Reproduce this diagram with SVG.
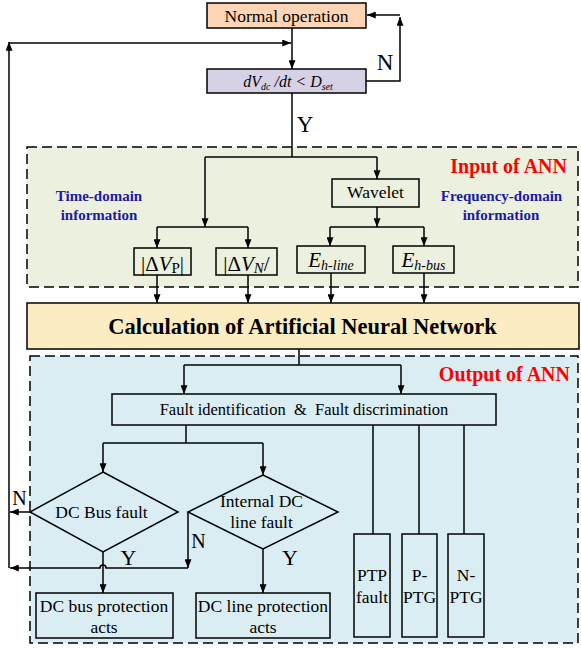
<svg xmlns="http://www.w3.org/2000/svg" width="581" height="648" viewBox="0 0 581 648">
  <style>
    text { font-family: "Liberation Serif", "Times New Roman", serif; fill: #000; }
    .box { stroke: #000; stroke-width: 1.5; fill: none; }
    .peach { fill: #fbd5b5; }
    .lilac { fill: #d7d1e5; }
    .cream { fill: #fcecc1; }
    .zone { stroke: #000; stroke-width: 1.5; stroke-dasharray: 10 5; }
    .wire { stroke: #000; stroke-width: 1.5; fill: none; }
    .arr { marker-end: url(#ah); }
    .t17 { font-size: 17.5px; text-anchor: middle; }
    .yn { font-size: 22px; text-anchor: middle; }
    .head { font-size: 20px; font-weight: bold; fill: #ff0000; text-anchor: end; }
    .info { font-size: 15px; font-weight: bold; fill: #1a1aa6; text-anchor: middle; }
    .sym { font-size: 21px; text-anchor: middle; }
  </style>
  <defs>
    <marker id="ah" viewBox="0 0 10 8" refX="10" refY="4" markerWidth="9" markerHeight="7" orient="auto" markerUnits="userSpaceOnUse">
      <path d="M0,0 L10,4 L0,8 z" fill="#000"/>
    </marker>
  </defs>

  <!-- background zones -->
  <rect id="zone-input" class="zone" x="27" y="147" width="551" height="140" fill="#ebf1de"/>
  <rect id="zone-output" class="zone" x="30" y="356" width="548" height="287" fill="#daedf3"/>

  <!-- connectors -->
  <g id="connectors">
    <path class="wire arr" d="M292,28 V69"/>
    <path class="wire arr" d="M366,81 H400 V17"/>
    <path class="wire arr" d="M400,15 H367"/>
    <path class="wire" d="M292,93 V157"/>
    <path class="wire" d="M205,157 H377"/>
    <path class="wire arr" d="M377,157 V179"/>
    <path class="wire arr" d="M205,157 V227"/>
    <path class="wire" d="M157,227 H248"/>
    <path class="wire arr" d="M157,227 V248"/>
    <path class="wire arr" d="M248,227 V248"/>
    <path class="wire arr" d="M377,207 V227"/>
    <path class="wire" d="M330,227 H424"/>
    <path class="wire arr" d="M330,227 V246"/>
    <path class="wire arr" d="M424,227 V246"/>
    <path class="wire arr" d="M157,275 V303"/>
    <path class="wire arr" d="M248,275 V303"/>
    <path class="wire arr" d="M331,273 V303"/>
    <path class="wire arr" d="M424,273 V303"/>
    <path class="wire" d="M299,349 V365"/>
    <path class="wire" d="M184,365 H401"/>
    <path class="wire arr" d="M184,365 V394"/>
    <path class="wire arr" d="M401,365 V394"/>
    <path class="wire" d="M186,425 V443"/>
    <path class="wire" d="M103,443 H263"/>
    <path class="wire arr" d="M103,443 V472"/>
    <path class="wire arr" d="M263,443 V475"/>
    <path class="wire" d="M373,425 V534"/>
    <path class="wire" d="M419,425 V534"/>
    <path class="wire" d="M464,425 V534"/>
    <path class="wire arr" d="M103,552 V593"/>
    <path class="wire arr" d="M263,549 V593"/>
    <path class="wire arr" d="M30,512 H10"/>
    <path class="wire arr" d="M188,512 V568"/>
    <path class="wire arr" d="M188,568 H106 A3,3 0 0 0 100,568 H10"/>
    <path class="wire arr" d="M9,568 V42"/>
    <path class="wire arr" d="M9,43 H291"/>
  </g>

  <!-- flow labels -->
  <text class="yn" x="385" y="70" style="font-size:23px">N</text>
  <text class="yn" x="305" y="132" style="font-size:23px">Y</text>
  <text class="yn" x="19.5" y="505" style="font-size:20px">N</text>
  <text class="yn" x="198.5" y="548" style="font-size:20px">N</text>
  <text class="yn" x="128.5" y="565">Y</text>
  <text class="yn" x="290" y="565">Y</text>

  <g id="normal">
    <rect class="box peach" x="207" y="3" width="159" height="25"/>
    <text class="t17" x="286.5" y="22">Normal operation</text>
  </g>

  <g id="criterion">
    <rect class="box lilac" x="207" y="69" width="159" height="24"/>
    <text x="288" y="87" style="font-size:16px;font-style:italic;text-anchor:middle">dV<tspan dy="3" font-size="10">dc</tspan><tspan dy="-3"> /dt &lt; D</tspan><tspan dy="3" font-size="10">set</tspan></text>
  </g>

  <g id="input-labels">
    <text class="head" x="567" y="173">Input of ANN</text>
    <text class="info" x="99" y="201">Time-domain</text>
    <text class="info" x="99" y="220">information</text>
    <text class="info" x="501.5" y="201">Frequency-domain</text>
    <text class="info" x="501" y="220">information</text>
  </g>

  <g id="wavelet">
    <rect class="box" x="332" y="179" width="87" height="28"/>
    <text class="t17" x="375.5" y="198">Wavelet</text>
  </g>

  <g id="dvp">
    <rect class="box" x="134" y="248" width="57" height="27"/>
    <text class="sym" x="162.5" y="271">|Δ<tspan font-style="italic">V</tspan><tspan dy="2" font-size="15">P</tspan><tspan dy="-2">|</tspan></text>
  </g>

  <g id="dvn">
    <rect class="box" x="216" y="248" width="61" height="27"/>
    <text class="sym" x="246.5" y="271">|Δ<tspan font-style="italic">V</tspan><tspan dy="2" font-size="15" font-style="italic">N</tspan><tspan dy="-2">/</tspan></text>
  </g>

  <g id="ehline">
    <rect class="box" x="297" y="246" width="68" height="27"/>
    <text class="sym" x="331" y="267" font-style="italic">E<tspan dy="3" font-size="14">h-line</tspan></text>
  </g>

  <g id="ehbus">
    <rect class="box" x="393" y="246" width="61" height="27"/>
    <text class="sym" x="423.5" y="267" font-style="italic">E<tspan dy="3" font-size="14">h-bus</tspan></text>
  </g>

  <g id="ann">
    <rect class="box cream" x="27" y="303" width="552" height="46"/>
    <text x="302.5" y="334" style="font-size:22.5px;font-weight:bold;text-anchor:middle">Calculation of Artificial Neural Network</text>
  </g>

  <text class="head" x="570" y="381">Output of ANN</text>

  <g id="fault-id">
    <rect class="box" x="112" y="394" width="384" height="31"/>
    <text x="304" y="415" style="font-size:16.5px;text-anchor:middle;white-space:pre" xml:space="preserve">Fault identification  &amp;  Fault discrimination</text>
  </g>

  <g id="bus-fault">
    <polygon class="box" points="103,472 178,512 103,552 30,512"/>
    <text class="t17" x="101.5" y="518">DC Bus fault</text>
  </g>

  <g id="line-fault">
    <polygon class="box" points="263,475 338,512 263,549 188,512"/>
    <text class="t17" x="261.5" y="507">Internal DC</text>
    <text class="t17" x="261.5" y="528">line fault</text>
  </g>

  <g id="bus-protect">
    <rect class="box" x="36" y="593" width="137" height="45"/>
    <text class="t17" x="104" y="612">DC bus protection</text>
    <text class="t17" x="104" y="633">acts</text>
  </g>

  <g id="line-protect">
    <rect class="box" x="196" y="593" width="134" height="45"/>
    <text class="t17" x="263" y="612">DC line protection</text>
    <text class="t17" x="263" y="633">acts</text>
  </g>

  <g id="ptp">
    <rect class="box" x="354" y="534" width="36" height="103"/>
    <text class="t17" x="372" y="581">PTP</text>
    <text class="t17" x="372" y="603">fault</text>
  </g>

  <g id="pptg">
    <rect class="box" x="402" y="534" width="35" height="103"/>
    <text class="t17" x="419.5" y="581">P-</text>
    <text class="t17" x="419.5" y="603">PTG</text>
  </g>

  <g id="nptg">
    <rect class="box" x="448" y="534" width="36" height="103"/>
    <text class="t17" x="466" y="581">N-</text>
    <text class="t17" x="466" y="603">PTG</text>
  </g>
</svg>
